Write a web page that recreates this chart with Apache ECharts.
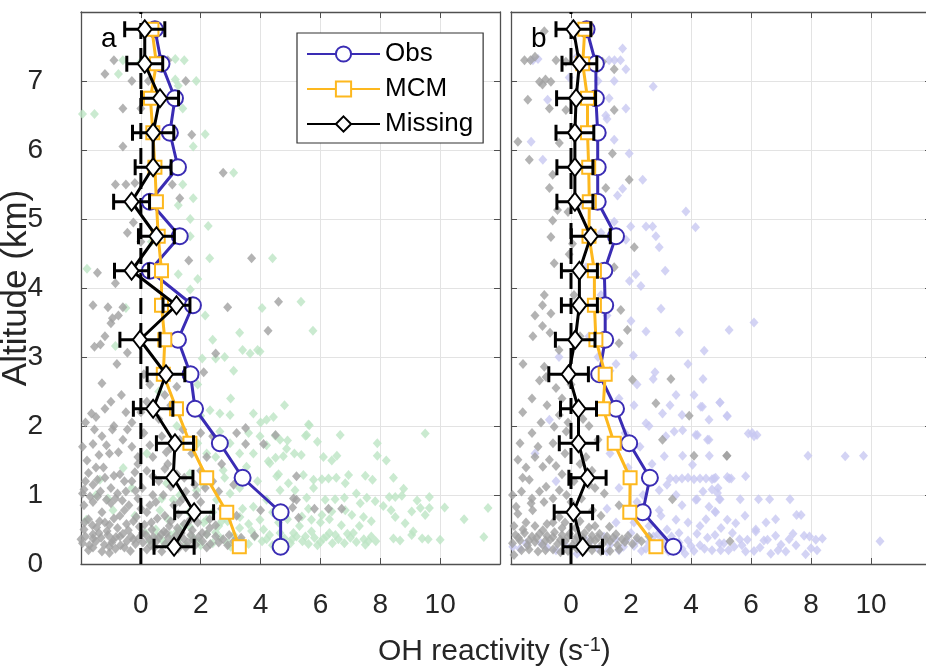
<!DOCTYPE html>
<html>
<head>
<meta charset="utf-8">
<script src="https://cdn.jsdelivr.net/npm/echarts@6/dist/echarts.min.js"></script>
<style>
  html, body { margin: 0; padding: 0; background: #fff; }
  #chart { width: 926px; height: 672px; }
</style>
</head>
<body>
<div id="chart"></div>
<script>
// Altitude bin centres (km)
const altitudes = [0.25, 0.75, 1.25, 1.75, 2.25, 2.75, 3.25, 3.75, 4.25, 4.75, 5.25, 5.75, 6.25, 6.75, 7.25, 7.75];

// Panel a: binned OH reactivity (s^-1)
const obsA  = [4.67, 4.67, 3.40, 2.64, 1.81, 1.66, 1.24, 1.74, 0.30, 1.30, 0.30, 1.24, 0.97, 1.14, 0.69, 0.47];
const mcmA  = [3.29, 2.87, 2.20, 1.64, 1.19, 0.75, 0.80, 0.69, 0.69, 0.58, 0.52, 0.47, 0.40, 0.32, 0.52, 0.37];
const missA = [1.11, 1.78, 1.08, 1.14, 0.41, 0.84, -0.03, 1.19, -0.31, 0.52, -0.31, 0.41, 0.41, 0.64, 0.13, 0.13];
const errA  = [0.67, 0.65, 0.66, 0.62, 0.66, 0.63, 0.67, 0.45, 0.57, 0.60, 0.60, 0.60, 0.69, 0.62, 0.60, 0.67];

// Panel b: binned OH reactivity (s^-1)
const obsB  = [3.41, 2.39, 2.63, 1.94, 1.50, 0.94, 1.14, 1.14, 1.11, 1.50, 0.89, 0.89, 0.89, 0.83, 0.83, 0.52];
const mcmB  = [2.83, 1.96, 1.97, 1.44, 1.07, 1.14, 0.83, 0.78, 0.78, 0.60, 0.61, 0.59, 0.55, 0.55, 0.39, 0.46];
const missB = [0.39, 0.08, 0.55, 0.25, 0.25, -0.08, 0.14, 0.28, 0.28, 0.66, 0.13, 0.13, 0.13, 0.17, 0.28, 0.08];
const errB  = [0.66, 0.64, 0.62, 0.64, 0.60, 0.66, 0.66, 0.60, 0.60, 0.65, 0.60, 0.60, 0.63, 0.65, 0.58, 0.58];

// Tick values
const xTicks = [0, 2, 4, 6, 8, 10];
const yTicks = [0, 1, 2, 3, 4, 5, 6, 7];

// Individual samples [reactivity, altitude]: panel a observed (green) and missing (grey)
const obsPointsA = [
  [-0.6,7.3],[-0.75,7.1],[0.0,7.28],[0.5,7.3],[1.15,7.32],[1.45,7.3],[1.15,7.02],[1.85,7.0],[1.25,6.93],[1.4,6.6],
  [-1.55,6.52],[-1.95,6.52],[2.15,6.23],[1.75,6.05],[3.1,5.67],[1.4,5.5],[1.75,5.3],[1.25,5.2],[-0.35,5.18],[1.65,5.0],
  [2.25,4.9],[1.65,4.75],[0.35,4.67],[2.3,4.43],[4.4,4.43],[-1.8,4.28],[1.25,4.2],[1.9,4.13],[1.65,3.98],[4.05,3.71],
  [5.35,3.8],[5.75,3.38],[3.98,3.08],[2.15,3.6],[-0.5,3.71],[-0.85,3.16],[3.4,3.1],[3.65,3.05],[3.9,3.1],[2.05,2.98],
  [2.5,2.98],[3.1,2.8],[1.9,2.6],[0.6,2.5],[2.8,3.0],[3.3,3.35],[2.4,3.25],
  [5.6,2.02],[5.54,1.87],[6.66,1.87],[4.9,1.79],[5.9,1.77],[7.9,1.75],[9.5,1.89],[5.13,1.6],[5.36,1.58],[6.1,1.55],
  [6.38,1.5],[6.55,1.57],[7.9,1.57],[8.2,1.5],[4.26,1.49],[4.5,1.54],[4.87,1.67],[4.49,1.86],[5.63,2.01],[5.5,1.86],
  [2.31,2.23],[2.64,2.18],[2.98,2.16],[3.76,2.18],[4.43,2.13],[4.2,2.09],[3.98,1.85],[4.65,1.8],[4.2,1.72],[3.76,1.6],
  [2.98,1.75],[2.64,1.92],[2.2,1.6],[4.76,1.56],[4.31,1.46],[2.75,1.36],[3.53,1.41],[4.54,1.27],[1.64,1.31],[0.86,1.17],
  [-1.37,1.22],[-0.59,1.39],[4.65,1.07],[4.2,0.93],[2.98,1.02],[3.76,0.83],[2.53,0.93],[1.86,1.07],[1.08,0.93],[0.64,0.78],
  [-0.93,0.78],[3.31,0.68],[3.98,0.64],[2.2,0.64],[1.64,0.54],[-1.82,0.64],[1.3,0.49],
  [8.78,1.09],[7.2,1.02],[5.54,0.96],[6.16,0.93],[6.49,0.94],[6.8,0.96],[7.55,0.96],[7.83,0.91],[8.3,0.97],[8.5,0.97],
  [8.72,0.99],[8.1,0.84],[8.36,0.78],[9.23,0.92],[9.34,0.81],[9.64,0.97],[9.64,0.81],[10.15,0.82],[11.6,0.81],[8.5,0.68],
  [8.83,0.59],[9.05,0.76],[9.1,0.47],[9.5,0.71],[10.8,0.65],[5.38,0.69],[5.7,0.64],[6.05,0.71],[6.38,0.76],[7.05,0.71],
  [7.44,0.68],[6.83,0.78],[7.33,0.88],[8.44,0.37],[8.66,0.34],[9.05,0.42],[9.4,0.37],[9.6,0.36],[10.0,0.35],[11.46,0.39],
  [5.43,1.29],[5.77,1.22],[6.05,1.23],[6.27,1.24],[6.53,1.25],[6.94,1.29],[6.83,1.17],[7.5,1.28],[7.74,1.22],[8.44,1.25],
  [4.93,1.17],[5.15,1.07],[5.77,1.1],
  [0.3,0.33],[0.55,0.4],[0.8,0.3],[1.0,0.42],[1.25,0.35],[1.5,0.28],[1.7,0.4],[1.95,0.33],[2.2,0.43],[2.4,0.3],
  [2.65,0.38],[2.9,0.3],[3.1,0.42],[3.35,0.34],[3.6,0.29],[3.8,0.4],[4.05,0.33],[4.3,0.42],[4.55,0.3],[4.8,0.37],
  [5.0,0.3],[5.2,0.4],[5.4,0.33],[5.6,0.29],[5.8,0.38],[6.0,0.32],[6.2,0.4],[6.4,0.3],[6.6,0.36],[6.8,0.3],
  [7.0,0.38],[7.2,0.32],[7.45,0.36],[7.7,0.4],[5.1,0.45],[5.7,0.47],[6.3,0.45],[6.9,0.44],[4.1,0.5],[3.3,0.52],
  [2.6,0.55],[7.5,0.28],[4.4,0.27],[5.9,0.27],[1.1,0.25],[2.0,0.27],[3.0,0.25],[7.85,0.33],[0.5,0.5],[1.4,0.55],
  [2.1,0.6],[2.9,0.62],[3.6,0.58],[4.6,0.6],[5.3,0.55],[6.0,0.6],[6.7,0.56],[7.3,0.55],
  [0.15,0.45],[0.7,0.35],[1.2,0.47],[1.8,0.35],[2.5,0.46],[3.2,0.28],[3.7,0.48],[4.2,0.36],[4.65,0.45],[5.05,0.36],
  [5.5,0.4],[6.1,0.37],[6.5,0.42],[7.1,0.45],[7.6,0.33],[0.9,0.65],[1.6,0.75],[2.4,0.75],[2.7,0.62],[3.4,0.8],
  [4.4,0.75],[4.9,0.65],[5.6,0.8],[6.3,0.65],[7.7,0.62],[1.3,1.0],[2.1,1.15],[2.8,1.25],[3.3,1.1],[3.9,1.2],
  [4.6,1.3],[1.9,1.75],[2.5,1.55],[3.3,1.6],[3.6,1.9],[4.0,2.05],[3.0,2.4],[4.8,2.3],[2.0,2.15],[1.2,2.0],
  [0.2,1.6],[-0.3,1.1],[-1.1,0.95],[0.7,0.95],[-0.2,0.7],[-1.5,1.0]
];
const missPointsA = [
  [-0.9,7.3],[-1.2,7.1],[-0.3,7.0],[0.25,7.0],[0.9,7.3],[1.5,7.0],[-0.6,6.6],[0.0,6.6],[1.7,6.22],[-0.6,6.05],
  [2.75,5.67],[-0.85,5.5],[-0.5,5.5],[-0.2,5.52],[1.05,5.5],[1.3,5.3],[-0.25,4.95],[-0.45,4.8],[0.0,4.67],[1.6,4.4],
  [3.7,4.43],[-1.45,4.22],[-0.85,4.07],[4.6,3.8],[2.9,3.72],[-1.1,3.72],[-0.6,3.72],[-0.95,3.56],[-0.75,3.6],[-1.2,3.3],
  [-1.55,3.15],[-1.35,3.18],[-0.45,3.06],[4.25,3.38],[2.5,3.05],[0.1,2.75],[-0.65,2.45],[1.2,2.57],[2.1,2.78],[-1.0,3.49],
  [-1.6,3.75],[-0.8,2.9],[0.3,2.6],[-1.3,2.62],
  [-1.5,2.13],[-0.9,2.0],[-0.5,2.2],[-1.2,2.25],[0.2,2.35],[1.0,2.3],[-1.65,2.18],[2.0,1.9],[2.4,1.85],[3.5,1.97],
  [3.2,1.9],[-0.3,2.05],[0.6,2.1],[-1.6,1.74],[-1.05,1.6],[-0.6,1.8],[-0.95,1.95],[-0.3,1.7],[0.1,1.9],[0.7,1.85],
  [1.4,1.95],[4.1,1.74],[3.5,1.74],[4.5,1.87],[-1.3,1.85],[0.4,1.55],[-0.1,1.55],[1.7,1.6],[2.2,1.55],[-1.8,1.5],
  [-1.4,1.58],[0.85,1.62],
  [-1.85,1.2],[-1.2,1.25],[-0.7,1.3],[-0.3,1.2],[0.2,1.35],[0.6,1.2],[1.2,1.3],[1.8,1.15],[2.4,1.2],[2.6,1.05],
  [-1.5,1.4],[-1.0,1.1],[-0.1,1.45],[0.9,1.45],[1.5,1.05],[-1.95,1.02],[-0.5,1.05],[0.4,1.0],[3.1,1.15],[2.7,1.45],
  [5.2,1.27],[-1.6,1.15],[1.0,1.12],
  [-1.9,0.85],[-1.6,0.9],[-1.3,0.75],[-1.0,0.88],[-0.7,0.7],[-0.4,0.85],[-0.1,0.95],[0.2,0.75],[0.5,0.9],[0.8,0.7],
  [1.1,0.85],[1.4,0.95],[1.7,0.75],[2.0,0.9],[2.3,0.65],[-1.75,0.65],[-1.2,0.6],[-0.25,0.62],[0.35,0.6],[1.0,0.62],
  [1.6,0.62],[2.7,0.8],[3.2,0.7],[4.0,0.78],[-0.85,0.95],[-1.45,0.98],[0.0,0.8],[5.1,0.95],[5.2,0.93],[5.07,0.82],
  [5.8,0.8],[6.27,0.8],[6.71,0.8],[5.27,0.67],[-0.55,0.78],[1.25,0.72],
  [-1.95,0.3],[-1.72,0.27],[-1.5,0.33],[-1.22,0.28],[-0.97,0.31],[-0.68,0.27],[-0.47,0.33],[-0.18,0.29],[0.07,0.31],[0.33,0.27],
  [0.52,0.33],[0.82,0.29],[1.08,0.32],[1.3,0.27],[1.57,0.31],[1.83,0.28],[2.06,0.33],[2.32,0.29],[2.6,0.31],[2.9,0.27],
  [-1.85,0.4],[-1.6,0.43],[-1.33,0.38],[-1.1,0.42],[-0.83,0.39],[-0.6,0.44],[-0.33,0.4],[-0.08,0.37],[0.17,0.42],[0.42,0.39],
  [0.68,0.43],[0.92,0.38],[1.17,0.41],[1.42,0.37],[1.67,0.42],[1.93,0.39],[2.2,0.43],[2.5,0.4],[2.95,0.42],[3.35,0.38],
  [3.8,0.41],[-1.9,0.5],[-1.48,0.53],[-1.13,0.48],[-0.78,0.52],[-0.42,0.49],[-0.05,0.54],[0.37,0.5],[0.77,0.47],[1.22,0.52],
  [1.72,0.49],[2.3,0.52],[-1.75,0.2],[-1.3,0.18],[-0.85,0.22],[-0.35,0.19],[0.2,0.21],[0.7,0.18],[1.25,0.22],[-2.0,0.36],
  [-1.05,0.16],
  [-1.88,0.6],[-1.62,0.56],[-1.38,0.62],[-1.05,0.57],[-0.9,0.66],[-0.48,0.58],[-0.15,0.68],[0.12,0.57],[0.55,0.66],[0.95,0.55],
  [1.45,0.58],[1.9,0.6],[2.5,0.56],[-1.9,1.08],[-1.7,0.98],[-1.35,1.05],[-1.15,0.93],[-0.78,1.02],[-0.62,0.92],[-0.18,1.06],
  [0.05,1.1],[0.3,0.85],[0.75,1.0],[1.3,0.9],[1.85,1.0],[2.15,1.1],[-1.75,1.32],[-1.45,1.22],[-1.25,1.4],[-0.9,1.28],
  [-0.55,1.2],[-0.2,1.33],[0.4,1.27],[0.8,1.38],[1.45,1.25],[2.0,1.35],[-1.95,1.7],[-1.55,1.95],[-1.15,1.72],[-0.75,1.62],
  [-0.45,1.95],[0.3,1.72],[1.0,1.68],[1.3,1.8],[-1.85,2.05],[-1.0,2.35],[0.0,2.2],[0.8,2.45],
  [-1.6,0.37],[-1.4,0.45],[-0.95,0.35],[-0.7,0.4],[-0.25,0.36],[0.05,0.45],[0.3,0.35],[0.6,0.38],[0.85,0.45],[1.35,0.45],
  [1.75,0.35],[2.05,0.45],[2.75,0.36],[3.1,0.33],[-1.6,0.24],[-1.05,0.25],[-0.55,0.24],[0.45,0.24],[1.0,0.25],[1.5,0.24],
  [2.2,0.24]
];

// Individual samples [reactivity, altitude]: panel b observed (lavender) and missing (grey)
const obsPointsB = [
  [-1.27,7.3],[1.72,7.47],[1.27,7.3],[1.45,7.3],[1.65,7.3],[1.83,7.17],[-0.06,7.05],[1.44,7.0],[2.74,6.92],[-0.78,6.73],
  [0.5,6.73],[1.27,6.75],[1.83,6.6],[1.16,6.5],[1.2,6.45],[-1.33,6.12],[1.44,6.15],[1.94,5.95],[-0.94,5.86],[2.39,5.57],
  [1.72,5.44],[1.55,5.34],[3.83,5.11],[4.15,4.88],[2.5,4.89],[2.72,4.89],[1.99,4.89],[1.44,4.96],[1.83,4.7],[2.83,4.75],
  [2.94,4.59],[2.16,4.2],[3.14,4.25],[2.33,4.03],[1.95,4.1],[0.2,7.35],[0.9,7.0],[-1.1,7.32],[0.2,6.3],[0.9,5.7],
  [0.4,5.2],[1.0,4.8],
  [3.0,3.7],[6.1,3.5],[5.27,3.39],[3.61,3.36],[2.5,3.37],[2.0,3.52],[4.44,3.09],[2.08,3.02],[4.4,2.68],[2.74,2.68],
  [2.8,2.78],[3.5,2.45],[4.1,2.45],[4.96,2.34],[4.33,2.28],[5.2,2.15],[3.7,2.16],[3.05,2.18],[2.5,2.04],[6.04,1.9],
  [6.2,1.87],[4.21,1.87],[4.55,1.8],[3.44,1.92],[7.9,1.57],[9.14,1.56],[9.75,1.57],[3.72,1.57],[4.61,1.57],[4.05,1.44],
  [3.11,1.56],[5.91,1.89],[6.1,1.85],[4.97,2.34],[5.21,2.14],[4.38,2.28],[4.6,2.09],[3.72,1.94],[3.16,1.85],[4.16,1.87],
  [4.6,1.8],[0.9,3.0],[1.3,2.8],[1.6,2.4],[2.1,2.3],[1.2,3.6],[0.6,3.3],[-0.72,2.09],[2.3,1.7],[2.7,1.45],
  [3.3,1.24],[3.5,1.23],[3.7,1.24],[3.9,1.25],[4.1,1.23],[4.3,1.24],[4.5,1.24],[4.7,1.23],[4.82,1.25],[5.27,1.24],
  [5.82,1.27],[5.21,1.26],[5.34,1.24],[4.77,1.24],
  [4.9,1.1],[4.7,1.08],[4.2,0.94],[4.97,0.94],[5.64,0.94],[6.25,0.94],[6.62,0.94],[7.3,0.94],[4.94,0.94],[4.88,1.03],
  [4.8,0.76],[4.82,0.75],[5.21,0.64],[5.49,0.59],[6.82,0.65],[7.52,0.71],[7.67,0.71],[6.16,0.5],[2.94,1.07],[3.5,1.0],
  [4.16,0.93],[4.6,0.83],[2.94,0.78],[3.5,0.64],[3.9,0.6],[2.2,0.9],[1.6,1.1],[2.5,1.25],[1.9,1.4],[2.1,0.6],
  [3.2,0.5],[4.3,0.55],
  [-1.94,0.25],[-1.7,0.22],[-0.5,0.2],[0.2,0.15],[0.9,0.22],[1.3,0.28],[1.6,0.2],[1.85,0.35],[2.1,0.26],[2.35,0.19],
  [2.6,0.31],[2.8,0.22],[3.05,0.36],[3.25,0.18],[3.45,0.28],[3.7,0.22],[3.9,0.34],[4.1,0.19],[4.3,0.27],[4.55,0.38],
  [4.7,0.2],[4.95,0.3],[5.1,0.3],[5.38,0.45],[5.44,0.25],[5.62,0.36],[5.82,0.18],[5.88,0.35],[6.1,0.19],[6.16,0.47],
  [6.43,0.34],[6.55,0.35],[6.66,0.15],[6.82,0.41],[7.0,0.28],[7.16,0.18],[7.27,0.36],[7.5,0.27],[7.77,0.41],[7.82,0.14],
  [8.0,0.23],[8.16,0.35],[8.38,0.37],[10.3,0.33],[4.99,0.2],[1.1,0.4],[2.0,0.45],[2.9,0.43],[3.6,0.45],[4.2,0.44],
  [0.5,0.35],[-1.0,0.3],
  [-1.5,0.3],[-0.8,0.24],[-0.2,0.28],[0.6,0.3],[1.2,0.18],[1.5,0.36],[1.75,0.25],[2.2,0.34],[2.5,0.22],[2.75,0.4],
  [3.15,0.27],[3.35,0.4],[3.6,0.31],[3.8,0.15],[4.0,0.26],[4.45,0.22],[4.8,0.42],[5.25,0.2],[5.7,0.27],[6.3,0.24],
  [6.9,0.2],[7.4,0.44],[7.95,0.4],[8.2,0.2],[1.5,0.6],[2.6,0.55],[3.0,0.7],[3.7,0.85],[4.5,0.65],[5.0,0.52],
  [5.8,0.7],[6.5,0.6],[1.2,0.8],[2.4,1.0],[3.2,1.15],[4.4,1.05],[1.3,1.6],[1.8,1.9],[2.6,2.0],[3.3,2.3],
  [1.5,2.9],[2.2,2.6],[3.9,2.9],[1.0,3.9],[0.5,4.3],[-0.4,3.0],[-1.2,1.6],[-0.5,1.2]
];
const missPointsB = [
  [-1.55,7.3],[-0.89,7.72],[-0.5,7.3],[-0.17,7.28],[1.05,7.28],[1.44,7.17],[-1.05,6.99],[-0.95,6.95],[-0.67,6.99],[-1.44,6.73],
  [-0.72,6.6],[-0.17,6.58],[1.44,6.58],[-1.77,6.12],[-0.39,6.1],[1.38,5.95],[-1.39,5.86],[-0.61,5.64],[1.94,5.57],[-0.72,5.45],
  [1.16,5.45],[-0.45,5.13],[-0.1,5.1],[-0.61,4.98],[-0.67,4.74],[-0.06,4.49],[-0.56,4.36],[1.44,4.3],[2.11,4.59],[0.05,4.64],
  [-1.2,7.35],[-1.35,7.3],[-0.85,7.02],
  [-0.89,3.9],[-0.95,3.75],[-0.67,3.63],[1.66,3.68],[-1.27,3.3],[-0.95,3.45],[-0.7,3.35],[1.88,3.39],[1.6,3.2],[-0.89,2.86],
  [-0.83,2.71],[-1.05,2.66],[3.33,2.68],[2.05,2.67],[3.94,2.15],[2.83,2.33],[3.05,1.8],[5.2,1.57],[4.1,1.57],[3.38,0.94],
  [5.3,0.33],[5.19,1.57],[-1.61,2.2],[-1.77,1.51],[-1.61,1.25],[-1.33,0.88],[-1.77,0.73],
  [-0.39,2.16],[-0.56,1.99],[-0.16,1.92],[-1.0,2.05],[0.4,2.1],[-1.3,1.9],[-0.8,2.3],[-0.3,2.4],[0.2,2.3],[-0.72,1.51],
  [-0.94,1.41],[-0.5,1.42],[-0.2,1.6],[0.5,1.55],[-1.39,1.22],[-0.83,1.12],[-0.39,1.07],[0.1,1.2],[0.6,1.15],[1.11,1.02],
  [-1.1,1.7],[0.1,1.75],[0.9,1.8],[-1.83,0.83],[-1.28,0.78],[-0.9,0.9],[-0.39,0.68],[0.0,0.9],[0.72,0.78],[1.28,0.54],
  [-0.94,0.49],[-1.5,0.6],[0.3,0.62],[1.0,0.7],[-0.6,0.6],[1.6,0.85],
  [-1.95,0.3],[-1.7,0.34],[-1.45,0.27],[-1.2,0.32],[-0.95,0.28],[-0.7,0.35],[-0.45,0.29],[-0.2,0.33],[0.05,0.27],[0.3,0.32],
  [0.55,0.28],[0.8,0.34],[1.05,0.29],[1.3,0.33],[1.55,0.27],[1.8,0.32],[2.05,0.29],[2.35,0.33],
  [-1.85,0.42],[-1.55,0.45],[-1.3,0.4],[-1.05,0.44],[-0.8,0.41],[-0.55,0.46],[-0.3,0.42],[-0.05,0.44],[0.2,0.4],[0.45,0.45],
  [0.7,0.41],[0.95,0.44],[1.2,0.4],[1.5,0.43],[1.9,0.41],
  [-1.65,0.2],[-1.1,0.18],[-0.6,0.21],[-0.1,0.19],[0.45,0.2],[1.0,0.18],[1.6,0.21],[-1.9,0.13],[-0.3,0.52],[0.6,0.53],
  [-1.9,0.55],[-1.6,0.5],[-1.2,0.55],[-0.8,0.58],[-0.2,0.6],[0.15,0.52],[0.8,0.55],[-1.95,1.0],[-1.65,1.05],[-1.3,0.95],
  [-1.05,1.05],[-0.6,0.95],[-0.15,1.0],[0.35,0.95],[0.8,1.1],[-1.5,1.4],[-1.2,1.55],[-0.3,1.3],[0.3,1.45],[0.7,1.35],
  [-1.7,1.75],[-0.6,1.75],[-0.1,2.05],[0.6,2.0],[-1.3,2.4],[-0.5,2.55],[0.0,2.6],[-1.6,2.9],[-0.4,3.1],[0.3,3.3],
  [-1.2,3.6],[0.1,3.9],
  [-1.75,0.38],[-1.4,0.34],[-1.15,0.38],[-0.85,0.34],[-0.6,0.39],[-0.35,0.35],[-0.1,0.39],[0.15,0.34],[0.4,0.38],[0.65,0.34],
  [0.9,0.38],[1.15,0.35],[1.4,0.38],[1.7,0.36],[2.2,0.38],[2.6,0.4],[-1.4,0.21],[-0.85,0.2],[-0.35,0.17],[0.2,0.22],
  [0.7,0.2],[1.3,0.19]
];

// Zero reference line endpoints
const zeroLine = [[0, 0], [0, 8]];

const FONT = "'Liberation Sans', Arial, sans-serif";
const AXIS_COLOR = '#505050';
const GRID_COLOR = '#e3e3e3';
const TEXT_COLOR = '#262626';
const OBS_COLOR = '#3a2cb4';
const MCM_COLOR = '#fdb81e';
const MISS_COLOR = '#000000';

const pairs = (xs) => xs.map((v, i) => [v, altitudes[i]]);
const errRows = (xs, es) => xs.map((v, i) => [v, altitudes[i], es[i]]);

const axisLineStyle = { show: true, onZero: false, lineStyle: { color: AXIS_COLOR, width: 1.3 } };
const tickStyle = { show: true, inside: true, length: 6, lineStyle: { color: AXIS_COLOR } };

function bottomAxis(grid) {
  return {
    type: 'value', gridIndex: grid, position: 'bottom', min: -2, max: 12, interval: 2,
    axisLine: axisLineStyle, axisTick: tickStyle,
    axisLabel: {
      margin: 27, fontSize: 28, color: TEXT_COLOR, fontFamily: FONT,
      formatter: (v) => (xTicks.indexOf(v) >= 0 ? String(v) : '')
    },
    splitLine: { show: true, lineStyle: { color: GRID_COLOR, width: 1 } }
  };
}
function topAxis(grid) {
  return {
    type: 'value', gridIndex: grid, position: 'top', min: -2, max: 12, interval: 2,
    axisLine: axisLineStyle, axisTick: tickStyle,
    axisLabel: { show: false }, splitLine: { show: false }
  };
}
function leftAxis(grid, labels) {
  return {
    type: 'value', gridIndex: grid, position: 'left', min: 0, max: 8, interval: 1,
    axisLine: axisLineStyle, axisTick: tickStyle,
    axisLabel: {
      show: labels, margin: 38, fontSize: 28, color: TEXT_COLOR, fontFamily: FONT,
      formatter: (v) => (yTicks.indexOf(v) >= 0 ? String(v) : '')
    },
    splitLine: { show: true, lineStyle: { color: GRID_COLOR, width: 1 } },
    name: labels ? 'Altitude (km)' : '',
    nameLocation: 'middle', nameRotate: 90, nameGap: 47, nameMoveOverlap: false,
    nameTextStyle: { fontSize: 35, color: TEXT_COLOR, fontFamily: FONT }
  };
}
function rightAxis(grid) {
  return {
    type: 'value', gridIndex: grid, position: 'right', min: 0, max: 8, interval: 1,
    axisLine: axisLineStyle, axisTick: tickStyle,
    axisLabel: { show: false }, splitLine: { show: false }
  };
}

function errorBars(rows, xi, yi) {
  return {
    type: 'custom', xAxisIndex: xi, yAxisIndex: yi, z: 5, silent: true,
    data: rows,
    encode: { x: 0, y: 1 },
    renderItem: (params, api) => {
      const x = api.value(0), y = api.value(1), e = api.value(2);
      const lo = api.coord([x - e, y]);
      const hi = api.coord([x + e, y]);
      const cap = 8;
      const st = { stroke: MISS_COLOR, lineWidth: 3 };
      return {
        type: 'group',
        children: [
          { type: 'line', shape: { x1: lo[0], y1: lo[1], x2: hi[0], y2: hi[1] }, style: st },
          { type: 'line', shape: { x1: lo[0], y1: lo[1] - cap, x2: lo[0], y2: lo[1] + cap }, style: st },
          { type: 'line', shape: { x1: hi[0], y1: hi[1] - cap, x2: hi[0], y2: hi[1] + cap }, style: st }
        ]
      };
    }
  };
}

function samples(data, color, xi, yi) {
  return {
    type: 'scatter', xAxisIndex: xi, yAxisIndex: yi, data: data, z: 1, silent: true,
    symbol: 'diamond', symbolSize: [9, 10],
    itemStyle: { color: color }
  };
}

function profile(name, data, color, symbol, size, xi, yi, z) {
  return {
    type: 'line', name: name, xAxisIndex: xi, yAxisIndex: yi, data: data, z: z,
    symbol: symbol, symbolSize: size, showAllSymbol: true,
    lineStyle: { color: color, width: 3 },
    itemStyle: { color: color, borderColor: color, borderWidth: 2.8 },
    emphasis: { disabled: true }
  };
}

function zeroRef(xi, yi) {
  return {
    type: 'line', xAxisIndex: xi, yAxisIndex: yi, data: zeroLine, z: 2, silent: true,
    symbol: 'none', lineStyle: { color: '#000', width: 3, type: [16, 9] }
  };
}

const option = {
  animation: false,
  backgroundColor: '#ffffff',
  grid: [
    { left: 81, top: 12, width: 419, height: 552, containLabel: false, outerBoundsMode: 'none' },
    { left: 511, top: 12, width: 420, height: 552, containLabel: false, outerBoundsMode: 'none' }
  ],
  xAxis: [bottomAxis(0), bottomAxis(1), topAxis(0), topAxis(1)],
  yAxis: [leftAxis(0, true), leftAxis(1, false), rightAxis(0), rightAxis(1)],
  title: [
    { text: 'a', left: 96, top: 20, textStyle: { fontSize: 28, fontWeight: 'normal', color: '#000', fontFamily: FONT } },
    { text: 'b', left: 526, top: 20, textStyle: { fontSize: 28, fontWeight: 'normal', color: '#000', fontFamily: FONT } },
    {
      text: '{n|OH reactivity (s}{s|-1}{n|)}', left: 373, top: 630,
      textStyle: {
        fontWeight: 'normal',
        rich: {
          n: { fontSize: 30, fontWeight: 'normal', color: TEXT_COLOR, fontFamily: FONT },
          s: { fontSize: 20, fontWeight: 'normal', color: TEXT_COLOR, fontFamily: FONT, verticalAlign: 'top', padding: [0, 0, 14, 0] }
        }
      }
    }
  ],
  legend: {
    data: ['Obs', 'MCM', 'Missing'],
    orient: 'vertical', left: 297, top: 33,
    itemWidth: 73, itemHeight: 19, itemGap: 9,
    padding: [8, 10, 6, 9],
    borderColor: '#333', borderWidth: 1.2, backgroundColor: '#fff',
    textStyle: { fontSize: 26, color: '#000', fontFamily: FONT, lineHeight: 26 },
    selectedMode: false
  },
  series: [
    samples(obsPointsA, '#bde5c4', 0, 0),
    samples(missPointsA, '#a0a0a0', 0, 0),
    samples(obsPointsB, '#c8c8f1', 1, 1),
    samples(missPointsB, '#a0a0a0', 1, 1),
    zeroRef(0, 0),
    zeroRef(1, 1),
    profile('Obs', pairs(obsA), OBS_COLOR, 'emptyCircle', 16, 0, 0, 3),
    profile('MCM', pairs(mcmA), MCM_COLOR, 'emptyRect', 13, 0, 0, 4),
    errorBars(errRows(missA, errA), 0, 0),
    profile('Missing', pairs(missA), MISS_COLOR, 'emptyDiamond', [14, 18], 0, 0, 6),
    profile('Obs', pairs(obsB), OBS_COLOR, 'emptyCircle', 16, 1, 1, 3),
    profile('MCM', pairs(mcmB), MCM_COLOR, 'emptyRect', 13, 1, 1, 4),
    errorBars(errRows(missB, errB), 1, 1),
    profile('Missing', pairs(missB), MISS_COLOR, 'emptyDiamond', [14, 18], 1, 1, 6)
  ]
};

const chart = echarts.init(document.getElementById('chart'), null, { renderer: 'canvas' });
chart.setOption(option);
</script>
</body>
</html>
